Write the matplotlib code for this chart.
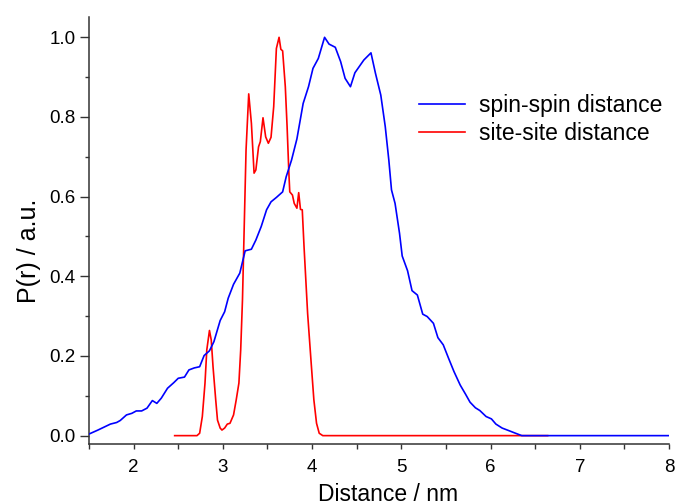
import matplotlib
matplotlib.use("Agg")
import matplotlib.pyplot as plt
from matplotlib.ticker import MultipleLocator
import numpy as np

plt.rcParams['font.family'] = ['Liberation Sans', 'DejaVu Sans']

spin_x = [1.50, 1.60, 1.74, 1.81, 1.85, 1.92, 1.98, 2.03, 2.09, 2.15, 2.21, 2.26, 2.31, 2.38, 2.45,
          2.50, 2.57, 2.62, 2.68, 2.74, 2.79, 2.85, 2.90, 2.97, 3.02, 3.06, 3.12, 3.19, 3.25, 3.32,
          3.37, 3.43, 3.49, 3.54, 3.60, 3.67, 3.71, 3.77, 3.83, 3.90, 3.96, 4.01, 4.07, 4.14, 4.19,
          4.26, 4.32, 4.37, 4.43, 4.48, 4.58, 4.66, 4.71, 4.77, 4.82, 4.86, 4.89, 4.93, 4.98, 5.01,
          5.07, 5.12, 5.18, 5.24, 5.29, 5.36, 5.41, 5.47, 5.53, 5.59, 5.66, 5.72, 5.77, 5.83, 5.88,
          5.95, 6.01, 6.06, 6.13, 6.20, 6.28, 6.35, 7.00, 8.00]
spin_y = [0.004, 0.014, 0.029, 0.033, 0.038, 0.052, 0.056, 0.062, 0.062, 0.069, 0.088, 0.081, 0.094, 0.119, 0.133,
          0.144, 0.147, 0.165, 0.170, 0.173, 0.201, 0.213, 0.236, 0.289, 0.311, 0.345, 0.380, 0.408, 0.464, 0.468,
          0.491, 0.525, 0.567, 0.587, 0.598, 0.612, 0.650, 0.692, 0.745, 0.834, 0.876, 0.922, 0.947, 1.000, 0.983,
          0.975, 0.939, 0.897, 0.876, 0.911, 0.943, 0.961, 0.910, 0.855, 0.776, 0.692, 0.617, 0.583, 0.508, 0.451,
          0.414, 0.364, 0.353, 0.305, 0.299, 0.282, 0.246, 0.228, 0.194, 0.161, 0.127, 0.104, 0.084, 0.070, 0.063,
          0.048, 0.042, 0.029, 0.019, 0.013, 0.006, 0.000, 0.000, 0.000]

site_x = [2.46, 2.71, 2.74, 2.77, 2.80, 2.82, 2.85, 2.87, 2.89, 2.92, 2.94, 2.97, 2.99, 3.02, 3.05,
          3.08, 3.12, 3.15, 3.18, 3.20, 3.22, 3.26, 3.29, 3.32, 3.35, 3.37, 3.40, 3.42, 3.45, 3.48,
          3.51, 3.54, 3.57, 3.60, 3.63, 3.65, 3.67, 3.70, 3.72, 3.74, 3.75, 3.78, 3.80, 3.83, 3.85,
          3.87, 3.89, 3.91, 3.95, 3.99, 4.02, 4.05, 4.08, 4.12, 6.64]
site_y = [0.000, 0.000, 0.006, 0.048, 0.132, 0.215, 0.264, 0.240, 0.173, 0.090, 0.039, 0.019, 0.014, 0.019, 0.029,
          0.031, 0.052, 0.090, 0.132, 0.215, 0.341, 0.717, 0.858, 0.784, 0.659, 0.667, 0.725, 0.738, 0.798, 0.750,
          0.734, 0.749, 0.826, 0.972, 1.000, 0.970, 0.966, 0.876, 0.776, 0.659, 0.612, 0.604, 0.583, 0.571, 0.610,
          0.568, 0.567, 0.474, 0.307, 0.182, 0.090, 0.031, 0.006, 0.000, 0.000]

fig = plt.figure(figsize=(6.75, 5.04), dpi=100)
ax = fig.add_axes([89/675, 60/504, 580/675, 427/504])

ax.plot(site_x, site_y, color='#ff0000', lw=1.2, label='site-site distance', zorder=2)
ax.plot(spin_x, spin_y, color='#0000ff', lw=1.2, label='spin-spin distance', zorder=3)

ax.set_xlim(1.5, 8.0)
ax.set_ylim(-0.021, 1.051)
ax.xaxis.set_major_locator(MultipleLocator(1))
ax.xaxis.set_minor_locator(MultipleLocator(0.5))
ax.yaxis.set_major_locator(MultipleLocator(0.2))
ax.yaxis.set_minor_locator(MultipleLocator(0.1))
ax.set_yticks([0.0, 0.2, 0.4, 0.6, 0.8, 1.0])
ax.set_yticklabels(['0.0', '0.2', '0.4', '0.6', '0.8', '1.0'])
ax.set_xticks([2, 3, 4, 5, 6, 7, 8])

for s in ['top', 'right']:
    ax.spines[s].set_visible(False)
for s in ['left', 'bottom']:
    ax.spines[s].set_color('#333333')
    ax.spines[s].set_linewidth(1.1)

ax.tick_params(axis='y', which='major', direction='out', length=6.5, width=1.0, color='#333333', labelsize=13.5, pad=3)
ax.tick_params(axis='y', which='minor', direction='out', length=3, width=1.0, color='#333333')
ax.tick_params(axis='x', which='major', direction='out', length=3.5, width=1.0, color='#333333', labelsize=13.5, pad=7)
ax.tick_params(axis='x', which='minor', direction='out', length=3.5, width=1.0, color='#333333')

ax.set_xlabel('Distance / nm', fontsize=16.5, labelpad=5)
ax.xaxis.label.set_x((388 - 89) / 580)
ax.set_ylabel('P(r) / a.u.', fontsize=18, labelpad=6)
ax.yaxis.label.set_y((487 - 234) / 427 - 60 / 427 + 0.0)

handles, labels = ax.get_legend_handles_labels()
leg = ax.legend(handles[::-1], labels[::-1], loc='upper left', bbox_to_anchor=(0.554, 0.84),
                frameon=False, fontsize=16.5, handlelength=2.0, handletextpad=0.6, labelspacing=0.2,
                borderaxespad=0)

fig.savefig('out.png', dpi=100)
